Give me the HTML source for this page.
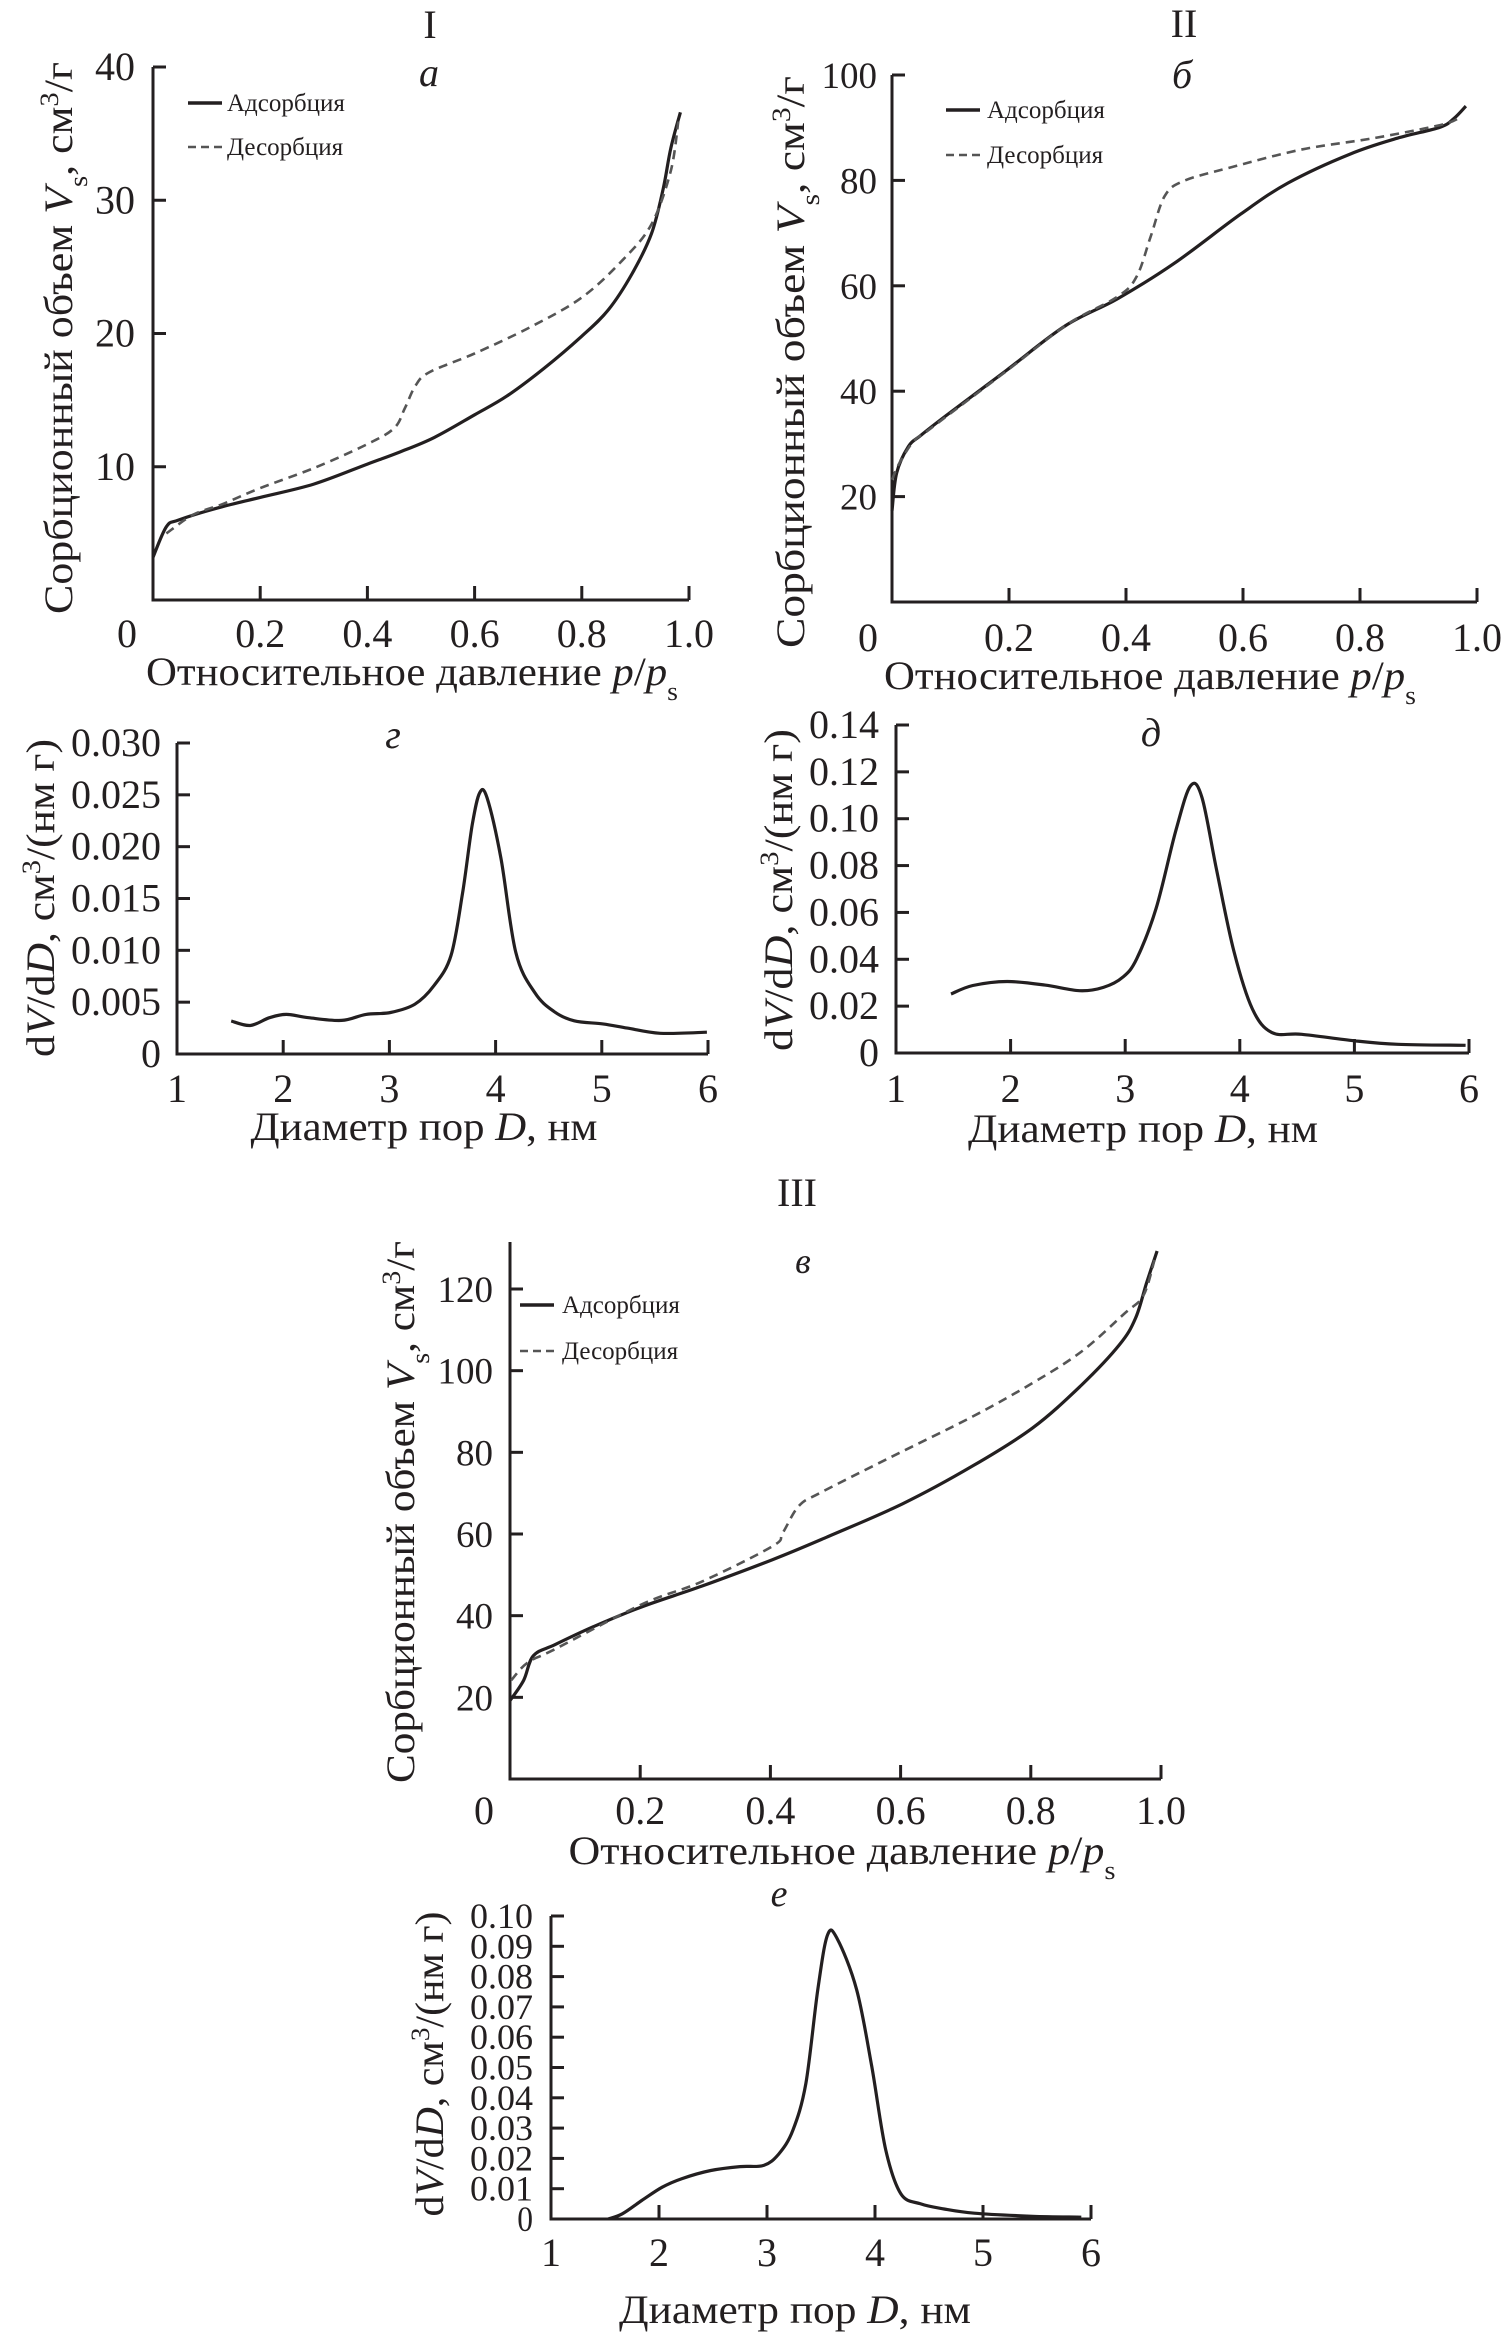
<!DOCTYPE html>
<html><head><meta charset="utf-8"><style>
html,body{margin:0;padding:0;background:#fff;}
svg{display:block;}
text{font-family:"Liberation Serif","DejaVu Serif",serif;fill:#231f20;}
</style></head><body>
<svg id="fig" width="1512" height="2333" viewBox="0 0 1512 2333" xmlns="http://www.w3.org/2000/svg"></svg>
<script>
// ---- Panel a (I) isotherm ----
const aAdsX=[0,0.025,0.048,0.12,0.2,0.3,0.4,0.46,0.525,0.6,0.66,0.73,0.8,0.85,0.894,0.93,0.952,0.966,0.984];
const aAdsY=[3.2,5.5,6.0,6.9,7.7,8.7,10.2,11.1,12.2,13.9,15.3,17.4,19.8,21.8,24.5,27.5,30.9,33.9,36.6];
const aDesX=[0.025,0.075,0.13,0.2,0.3,0.4,0.45,0.47,0.49,0.516,0.6,0.705,0.8,0.876,0.93,0.966,0.98];
const aDesY=[5.0,6.4,7.2,8.4,9.9,11.7,12.9,14.4,16.1,17.1,18.5,20.5,22.7,25.5,28.2,32.2,35.9];
const aYTicks=[10,20,30,40];
// ---- Panel b (II) isotherm ----
const bAdsX=[0,0.008,0.028,0.049,0.093,0.195,0.296,0.385,0.483,0.596,0.677,0.783,0.864,0.937,0.961,0.981];
const bAdsY=[17.3,24.5,29.5,31.6,35.4,43.9,52.4,57.5,64.3,73.6,79.5,85.0,88.0,90.1,91.8,94.1];
const bDesX=[0,0.012,0.036,0.061,0.1,0.2,0.3,0.385,0.418,0.442,0.466,0.499,0.58,0.702,0.823,0.937,0.969];
const bDesY=[23.2,26.2,30.4,32.5,35.8,44.2,52.7,57.9,61.7,69.3,77.0,79.9,82.5,85.9,88.0,90.5,91.8];
const bYTicks=[20,40,60,80,100];
// ---- Panel v (III) isotherm ----
const vAdsX=[0,0.021,0.036,0.069,0.128,0.203,0.294,0.403,0.486,0.603,0.711,0.803,0.878,0.936,0.961,0.978,0.994];
const vAdsY=[19.2,24.2,30.2,32.9,37.3,42.2,47.2,53.7,59.2,67.4,76.7,86.0,96.5,106.3,112.9,121.6,129.3];
const vDesX=[0.002,0.027,0.069,0.203,0.294,0.403,0.419,0.444,0.478,0.586,0.711,0.803,0.878,0.944,0.973,0.99];
const vDesY=[24.2,28.5,31.8,42.8,48.3,57.0,60.3,66.9,70.2,78.9,88.8,97.0,104.7,114.0,118.4,127.1];
const vYTicks=[20,40,60,80,100,120];
const pTickLabels=["0.2","0.4","0.6","0.8","1.0"];
const pTicks=[0.2,0.4,0.6,0.8,1.0];
// ---- Panel g PSD ----
const gX=[1.51,1.69,1.87,2.03,2.24,2.55,2.78,3.01,3.24,3.42,3.58,3.69,3.78,3.85,3.92,4.05,4.19,4.37,4.55,4.74,5.01,5.24,5.55,5.99];
const gY=[0.00318,0.00275,0.0035,0.00382,0.0035,0.00324,0.00382,0.004,0.0048,0.0066,0.0095,0.0156,0.0221,0.0252,0.0247,0.0189,0.0098,0.0059,0.0041,0.0032,0.0029,0.0025,0.002,0.0021];
const gYTicks=[0,0.005,0.010,0.015,0.020,0.025,0.030];
const gYLabels=["0","0.005","0.010","0.015","0.020","0.025","0.030"];
// ---- Panel d PSD ----
const dX=[1.48,1.67,1.97,2.30,2.60,2.81,2.98,3.10,3.27,3.44,3.57,3.67,3.80,3.95,4.11,4.28,4.54,5.0,5.38,5.97];
const dY=[0.0252,0.0288,0.0305,0.029,0.0266,0.028,0.0324,0.0402,0.0617,0.0946,0.114,0.109,0.0775,0.0431,0.0188,0.0087,0.008,0.0052,0.0037,0.0033];
const dYTicks=[0,0.02,0.04,0.06,0.08,0.10,0.12,0.14];
const dYLabels=["0","0.02","0.04","0.06","0.08","0.10","0.12","0.14"];
// ---- Panel e PSD ----
const eX=[1.53,1.66,1.84,2.03,2.21,2.48,2.75,2.97,3.11,3.24,3.36,3.47,3.56,3.65,3.83,3.97,4.10,4.24,4.42,4.64,4.92,5.46,5.91];
const eY=[0,0.0017,0.0061,0.0105,0.0133,0.016,0.0173,0.0177,0.0215,0.0293,0.0448,0.0757,0.0937,0.0925,0.0757,0.0503,0.0227,0.0083,0.005,0.0033,0.0019,0.0009,0.0006];
const eYTicks=[0,0.01,0.02,0.03,0.04,0.05,0.06,0.07,0.08,0.09,0.10];
const eYLabels=["0","0.01","0.02","0.03","0.04","0.05","0.06","0.07","0.08","0.09","0.10"];
const dTicks=[2,3,4,5,6];
const dTickLabels=["1","2","3","4","5","6"];

const NS="http://www.w3.org/2000/svg";
const svg=document.getElementById('fig');
function el(tag,attrs,parent){const e=document.createElementNS(NS,tag);for(const k in attrs)e.setAttribute(k,attrs[k]);(parent||svg).appendChild(e);return e;}
function spline(pts){
  if(pts.length<2)return "";
  let d="M"+pts[0][0].toFixed(1)+","+pts[0][1].toFixed(1);
  for(let i=0;i<pts.length-1;i++){
    const p0=pts[i-1]||pts[i],p1=pts[i],p2=pts[i+1],p3=pts[i+2]||p2;
    const c1=[p1[0]+(p2[0]-p0[0])/6,p1[1]+(p2[1]-p0[1])/6];
    const c2=[p2[0]-(p3[0]-p1[0])/6,p2[1]-(p3[1]-p1[1])/6];
    d+="C"+c1[0].toFixed(1)+","+c1[1].toFixed(1)+" "+c2[0].toFixed(1)+","+c2[1].toFixed(1)+" "+p2[0].toFixed(1)+","+p2[1].toFixed(1);
  }
  return d;
}
function text(parent,x,y,str,size,opts){
  const t=el('text',{x:x,y:y,'font-size':size},parent);
  if(opts&&opts.anchor)t.setAttribute('text-anchor',opts.anchor);
  if(opts&&opts.italic)t.setAttribute('font-style','italic');
  if(opts&&opts.len){t.setAttribute('textLength',opts.len);t.setAttribute('lengthAdjust','spacingAndGlyphs');}
  t.textContent=str;return t;
}
function richText(parent,x,y,parts,size,opts){
  const t=el('text',{x:x,y:y,'font-size':size,'text-anchor':'middle'},parent);
  if(opts.rot)t.setAttribute('transform','rotate(-90 '+x+' '+y+')');
  if(opts.len){t.setAttribute('textLength',opts.len);t.setAttribute('lengthAdjust','spacingAndGlyphs');}
  parts.forEach(p=>{const s=document.createElementNS(NS,'tspan');
    if(p.i)s.setAttribute('font-style','italic');
    if(p.sub){s.setAttribute('baseline-shift','sub');s.setAttribute('font-size',size*0.65);}
    if(p.sup){s.setAttribute('baseline-shift','super');s.setAttribute('font-size',size*0.65);}
    s.textContent=p.t;t.appendChild(s);});
  return t;
}
function makeAxis(c){
  const g=el('g',{});
  
  
  const xs=v=>c.x0+(v-c.xmin)/(c.xmax-c.xmin)*(c.x1-c.x0);
  const ys=v=>c.y0-(v-c.ymin)/(c.ymax-c.ymin)*(c.y0-c.y1);
  const ax=el('path',{d:"M"+c.x0+","+c.top+"V"+c.y0+"H"+c.x1,fill:'none',stroke:'#231f20','stroke-width':3},g);
  
  
  c.xt.forEach((v)=>{const tk=el('line',{x1:xs(v),x2:xs(v),y1:c.y0,y2:c.y0-14,stroke:'#231f20','stroke-width':3},g);
    });
  c.yt.forEach((v)=>{const tk=el('line',{x1:c.x0,x2:c.x0+13,y1:ys(v),y2:ys(v),stroke:'#231f20','stroke-width':3},g);
    });
  c.xl.forEach((s,i)=>{const t=text(g,xs(c.xlv[i])+(c.xlOff&&c.xlv[i]===c.xmin?c.xlOff:0),c.xlBase,s,c.xlSize||40,{anchor:'middle'});
    });
  c.yl.forEach((s,i)=>{const t=text(g,c.ylRight,ys(c.yt[i])+(c.ylShift||13),s,c.ylSize||40,{anchor:'end',len:c.ylLen?c.ylLen*s.length/4:null});
    });
  return {g,xs,ys};
}
function series(ax,X,Y,dashed,name){
  const pts=X.map((x,i)=>[ax.xs(x),ax.ys(Y[i])]);
  const p=el('path',{d:spline(pts),fill:'none',stroke:dashed?'#555':'#231f20','stroke-width':dashed?2.6:3.2,'stroke-dasharray':dashed?'9 6':'none','stroke-linejoin':'round'},ax.g);
  
  
}
function legend(g,x,y1,y2,tx){
  const l1=el('line',{x1:x,x2:x+34,y1:y1,y2:y1,stroke:'#231f20','stroke-width':3.5},g);
  
  const t1=text(g,tx,y1+8,"Адсорбция",25);
  
  const l2=el('line',{x1:x,x2:x+34,y1:y2,y2:y2,stroke:'#555','stroke-width':2.6,'stroke-dasharray':'8 5'},g);
  
  const t2=text(g,tx,y2+8,"Десорбция",25);
  
}
const isoYT=[{t:"Сорбционный объем "},{t:"V",i:1},{t:"s",sub:1},{t:", см"},{t:"3",sup:1},{t:"/г"}];
const isoXT=[{t:"Относительное давление "},{t:"p",i:1},{t:"/"},{t:"p",i:1},{t:"s",sub:1}];
const psdYT=[{t:"d"},{t:"V",i:1},{t:"/d"},{t:"D",i:1},{t:", см"},{t:"3",sup:1},{t:"/(нм г)"}];
const psdXT=[{t:"Диаметр пор "},{t:"D",i:1},{t:", нм"}];

// Panel a
let A=makeAxis({name:'panel-a-isotherm-I',x0:153,x1:689,xmin:0,xmax:1,y0:600,y1:67,ymin:0,ymax:40,top:67,
  xt:pTicks,xl:["0"].concat(pTickLabels),xlv:[0].concat(pTicks),xlOff:-26,xlBase:647,yt:aYTicks,yl:aYTicks.map(String),ylRight:135});
series(A,aAdsX,aAdsY,false,'adsorption-line-a');series(A,aDesX,aDesY,true,'desorption-line-a');
legend(A.g,188,103,147,227);
text(A.g,430,38,"I",40,{anchor:'middle'});
text(A.g,429,86,"a",40,{anchor:'middle',italic:1});
richText(A.g,72,338,isoYT,40,{rot:1,len:552});
richText(A.g,412,685,isoXT,40,{len:532});

// Panel b
let B=makeAxis({name:'panel-b-isotherm-II',x0:892,x1:1477,xmin:0,xmax:1,y0:602,y1:75,ymin:0,ymax:100,top:75,
  xt:pTicks,xl:["0"].concat(pTickLabels),xlv:[0].concat(pTicks),xlOff:-24,xlBase:651,yt:bYTicks,yl:bYTicks.map(String),ylRight:877,ylSize:37});
series(B,bAdsX,bAdsY,false,'adsorption-line-b');series(B,bDesX,bDesY,true,'desorption-line-b');
legend(B.g,946,110,155,987);
text(B.g,1184,37,"II",40,{anchor:'middle'});
text(B.g,1182,88,"б",40,{anchor:'middle',italic:1});
richText(B.g,804,362,isoYT,40,{rot:1,len:572});
richText(B.g,1150,689,isoXT,40,{len:532});

// Panel g
let G=makeAxis({name:'panel-g-psd',x0:177,x1:708,xmin:1,xmax:6,y0:1054,y1:743,ymin:0,ymax:0.03,top:743,
  xt:dTicks,xl:dTickLabels,xlv:[1,2,3,4,5,6],xlBase:1102,yt:gYTicks,yl:gYLabels,ylRight:161});
series(G,gX,gY,false,'psd-line-g');
text(G.g,393,748,"г",40,{anchor:'middle',italic:1});
richText(G.g,54,898,psdYT,40,{rot:1,len:318});
richText(G.g,424,1140,psdXT,40,{len:347});

// Panel d
let D=makeAxis({name:'panel-d-psd',x0:896,x1:1469,xmin:1,xmax:6,y0:1053,y1:725,ymin:0,ymax:0.14,top:725,
  xt:dTicks,xl:dTickLabels,xlv:[1,2,3,4,5,6],xlBase:1102,yt:dYTicks,yl:dYLabels,ylRight:879});
series(D,dX,dY,false,'psd-line-d');
text(D.g,1151,746,"д",40,{anchor:'middle',italic:1});
richText(D.g,792,890,psdYT,40,{rot:1,len:322});
richText(D.g,1143,1142,psdXT,40,{len:350});

// Panel v
let V=makeAxis({name:'panel-v-isotherm-III',x0:510,x1:1161,xmin:0,xmax:1,y0:1779,y1:1289,ymin:0,ymax:120,top:1242,
  xt:pTicks,xl:["0"].concat(pTickLabels),xlv:[0].concat(pTicks),xlOff:-26,xlBase:1824,yt:vYTicks,yl:vYTicks.map(String),ylRight:493,ylSize:37});
series(V,vAdsX,vAdsY,false,'adsorption-line-v');series(V,vDesX,vDesY,true,'desorption-line-v');
legend(V.g,520,1305,1351,562);
text(V.g,797,1206,"III",40,{anchor:'middle'});
text(V.g,803,1273,"в",36,{anchor:'middle',italic:1});
richText(V.g,414,1512,isoYT,40,{rot:1,len:542});
richText(V.g,842,1864,isoXT,40,{len:547});

// Panel e
let E=makeAxis({name:'panel-e-psd',x0:551,x1:1091,xmin:1,xmax:6,y0:2219,y1:1916,ymin:0,ymax:0.10,top:1916,
  xt:dTicks,xl:dTickLabels,xlv:[1,2,3,4,5,6],xlBase:2266,yt:eYTicks,yl:eYLabels,ylRight:533,ylSize:36,ylLen:63,ylShift:12});
series(E,eX,eY,false,'psd-line-e');
text(E.g,779,1906,"e",38,{anchor:'middle',italic:1});
richText(E.g,443,2064,psdYT,40,{rot:1,len:305});
richText(E.g,795,2323,psdXT,40,{len:352});
</script>
</body></html>
